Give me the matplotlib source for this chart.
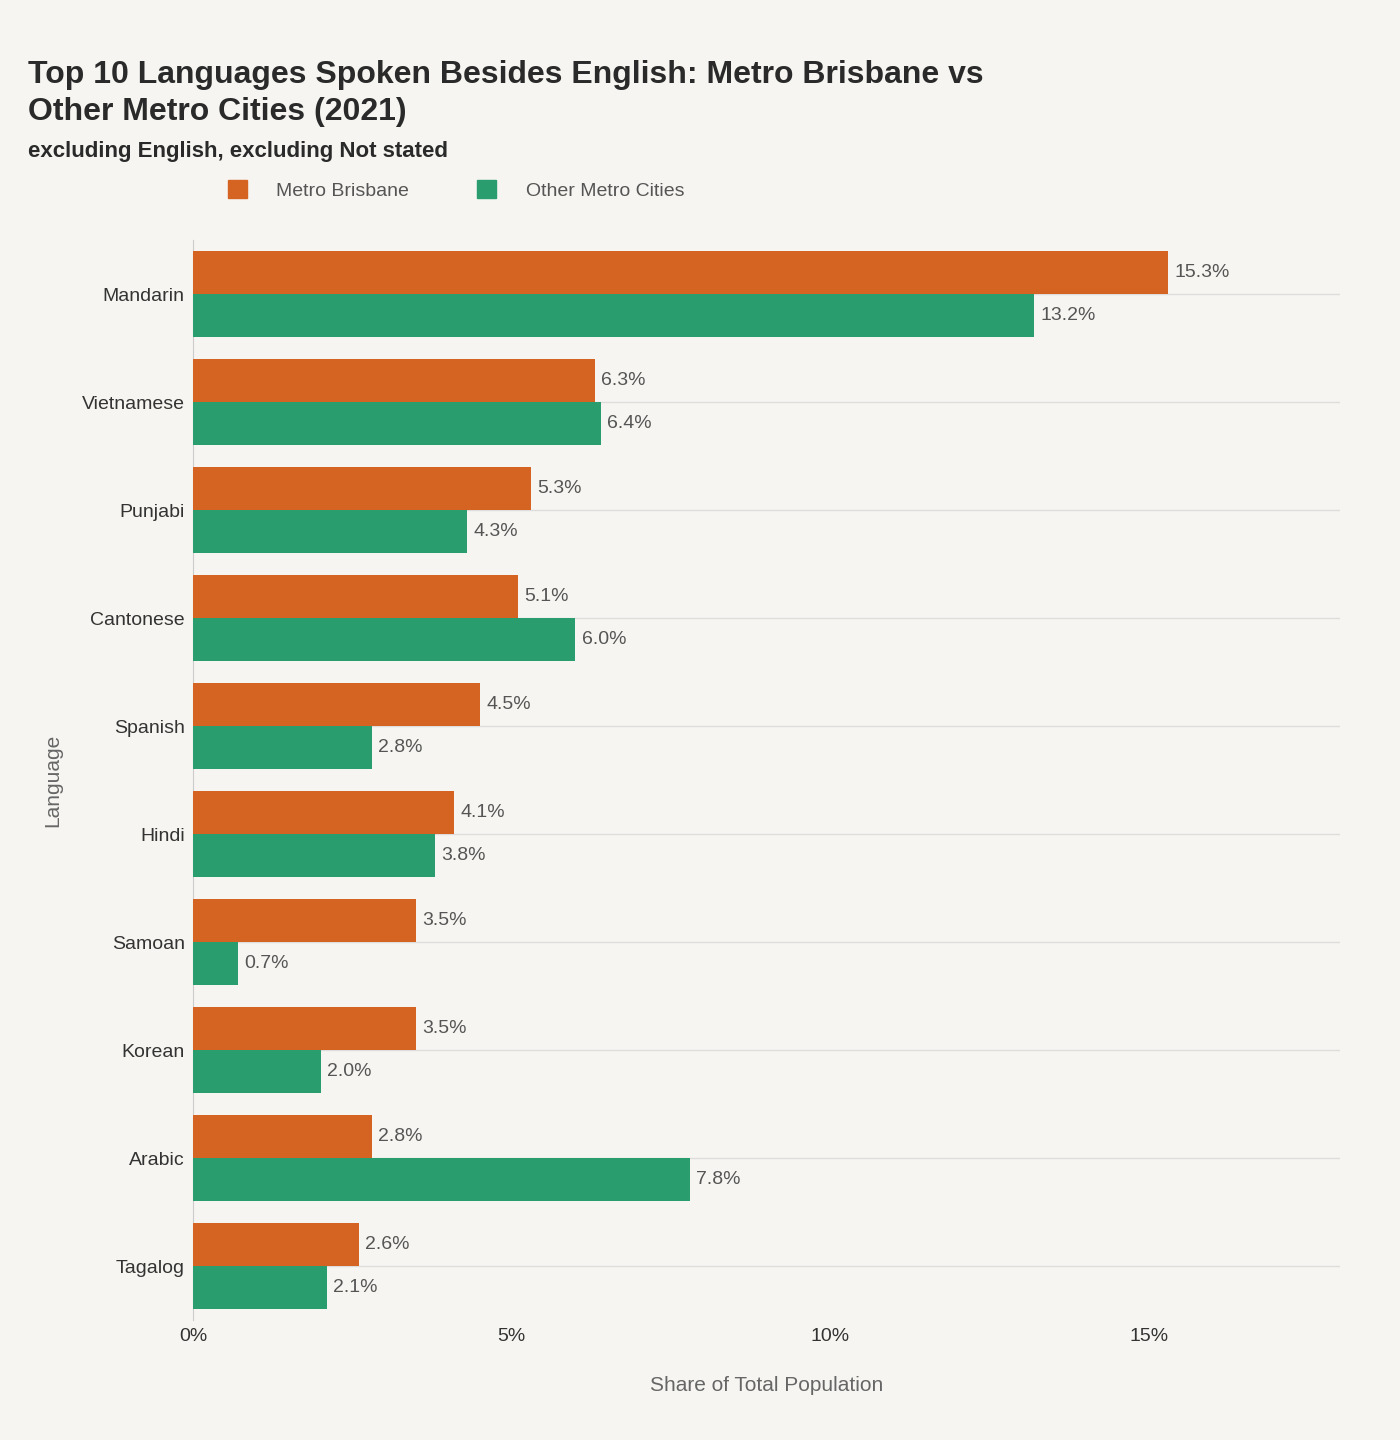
import matplotlib.pyplot as plt
import numpy as np
from matplotlib.patches import Patch

plt.rcParams['font.family'] = ['Liberation Sans', 'DejaVu Sans']

languages = ['Mandarin', 'Vietnamese', 'Punjabi', 'Cantonese', 'Spanish',
             'Hindi', 'Samoan', 'Korean', 'Arabic', 'Tagalog']
brisbane = [15.3, 6.3, 5.3, 5.1, 4.5, 4.1, 3.5, 3.5, 2.8, 2.6]
other = [13.2, 6.4, 4.3, 6.0, 2.8, 3.8, 0.7, 2.0, 7.8, 2.1]

c_bne = '#D56422'
c_oth = '#2A9D6F'
bg = '#F6F5F1'

fig = plt.figure(figsize=(14, 14.4), dpi=100, facecolor=bg)
ax = fig.add_axes([0.138, 0.0833, 0.819, 0.75], facecolor=bg)

y = np.arange(len(languages))
h = 0.4
ax.barh(y - h / 2, brisbane, height=h, color=c_bne, zorder=3)
ax.barh(y + h / 2, other, height=h, color=c_oth, zorder=3)

for yi, v in zip(y, brisbane):
    ax.text(v + 0.1, yi - h / 2, f'{v:.1f}%', va='center', ha='left', fontsize=14, color='#555555')
for yi, v in zip(y, other):
    ax.text(v + 0.1, yi + h / 2, f'{v:.1f}%', va='center', ha='left', fontsize=14, color='#555555')

ax.set_ylim(len(languages) - 0.5, -0.5)
ax.set_xlim(0, 18)
ax.set_yticks(y)
ax.set_yticklabels(languages, fontsize=14, color='#333333')
ax.set_xticks([0, 5, 10, 15])
ax.set_xticklabels(['0%', '5%', '10%', '15%'], fontsize=14, color='#333333')
ax.tick_params(length=0, pad=6)
ax.grid(axis='y', color='#DDDDDD', linewidth=1, zorder=0)
for s in ['top', 'right', 'bottom']:
    ax.spines[s].set_visible(False)
ax.spines['left'].set_color('#CCCCCC')

ax.set_xlabel('Share of Total Population', fontsize=15, color='#666666', labelpad=22)
ax.set_ylabel('Language', fontsize=15, color='#666666', labelpad=14)

fig.text(0.02, 0.958, 'Top 10 Languages Spoken Besides English: Metro Brisbane vs\nOther Metro Cities (2021)',
         fontsize=23, fontweight='bold', color='#2a2a2a', va='top', linespacing=1.3)
fig.text(0.02, 0.902, 'excluding English, excluding Not stated',
         fontsize=16, fontweight='bold', color='#2a2a2a', va='top')

handles = [Patch(color=c_bne, label='Metro Brisbane'), Patch(color=c_oth, label='Other Metro Cities')]
fig.legend(handles=handles, loc='center left', bbox_to_anchor=(0.15, 0.868), ncol=2, frameon=False,
           fontsize=14, labelcolor='#555555', handlelength=1.0, handleheight=1.0,
           columnspacing=3.5, handletextpad=1.5)

fig.savefig('out.png', dpi=100, facecolor=bg)
